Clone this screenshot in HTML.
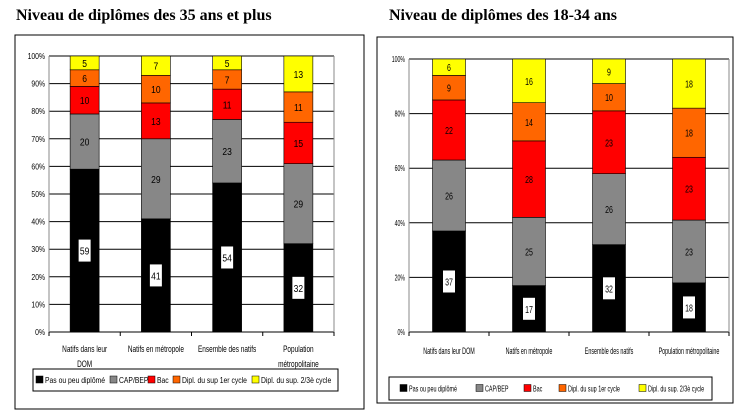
<!DOCTYPE html>
<html><head><meta charset="utf-8"><style>
body{margin:0;background:#fff;width:743px;height:413px;overflow:hidden;font-family:"Liberation Sans",sans-serif}
svg{position:absolute;left:0;top:0}
</style></head><body>
<svg id="c" width="743" height="413">
<text x="16" y="20" font-family="Liberation Serif" font-weight="bold" font-size="16">Niveau de diplômes des 35 ans et plus</text>
<text x="389" y="20" font-family="Liberation Serif" font-weight="bold" font-size="16">Niveau de diplômes des 18-34 ans</text>
</svg>
<script>
const categoriesL = ["Natifs dans leur|DOM","Natifs en métropole","Ensemble des natifs","Population|métropolitaine"];
const categoriesR = ["Natifs dans leur DOM","Natifs en métropole","Ensemble des natifs","Population métropolitaine"];
const seriesNames = ["Pas ou peu diplômé","CAP/BEP","Bac","Dipl. du sup 1er cycle","Dipl. du sup. 2/3è cycle"];
const colors = ["#000000","#878787","#ff0000","#ff6600","#ffff00"];
const left_pas = [59,41,54,32];
const left_cap = [20,29,23,29];
const left_bac = [10,13,11,15];
const left_sup1 = [6,10,7,11];
const left_sup2 = [5,7,5,13];
const right_pas = [37,17,32,18];
const right_cap = [26,25,26,23];
const right_bac = [22,28,23,23];
const right_sup1 = [9,14,10,18];
const right_sup2 = [6,16,9,18];
const ticksL = ["0%","10%","20%","30%","40%","50%","60%","70%","80%","90%","100%"];
const ticksR = ["0%","20%","40%","60%","80%","100%"];

const svg=document.getElementById('c');const NS='http://www.w3.org/2000/svg';
function mk(t,a,p){const e=document.createElementNS(NS,t);for(const k in a)e.setAttribute(k,a[k]);(p||svg).appendChild(e);return e;}
function txt(p,x,y,s,size,anchor,f){
  const t=mk('text',{transform:`translate(${x},${y}) scale(${f},1)`,x:0,y:0,'font-size':size,'text-anchor':anchor,fill:'#000'},p);
  t.textContent=s;return t;
}

function chart(cfg){
  const g=mk('g',{});
  
  
  const fr=mk('rect',{x:cfg.fx,y:cfg.fy,width:cfg.fw,height:cfg.fh,fill:'#fff',stroke:'#000','stroke-width':1},g);
  
  
  const y=v=>cfg.py1-(v/100)*(cfg.py1-cfg.py0);
  const n=cfg.ticks.length-1;
  cfg.ticks.forEach((t,i)=>{
    const v=i*100/n;
    const gl=mk('line',{x1:cfg.px0,x2:cfg.px1,y1:y(v),y2:y(v),stroke:'#000','stroke-width':1},g);
    
    
    const tl=txt(g,cfg.px0-4,y(v)+3,t,8,'end',cfg.tf);
    
    
  });
  mk('line',{x1:cfg.px0,x2:cfg.px0,y1:cfg.py0,y2:cfg.py1,stroke:'#888'},g);
  mk('line',{x1:cfg.px1,x2:cfg.px1,y1:cfg.py0,y2:cfg.py1,stroke:'#888'},g);
  const cw=(cfg.px1-cfg.px0)/cfg.cats.length;
  for(let i=0;i<=cfg.cats.length;i++)mk('line',{x1:cfg.px0+i*cw,x2:cfg.px0+i*cw,y1:cfg.py1,y2:cfg.py1+4,stroke:'#000'},g);
  cfg.cats.forEach((c,i)=>{
    const cx=cfg.px0+cw*(i+0.5);let acc=0;
    cfg.series.forEach((s,si)=>{
      const v=s[i];
      const r=mk('rect',{x:cx-cfg.bw/2,y:y(acc+v),width:cfg.bw,height:y(acc)-y(acc+v),fill:colors[si],stroke:'#000','stroke-width':0.6},g);
      
      
      const my=(y(acc)+y(acc+v))/2;
      if(si===0){mk('rect',{x:cx-6,y:my-11,width:12,height:22,fill:'#fff'},g);}
      const tx=txt(g,cx,my+4,String(v),10,'middle',cfg.vf);
      
      
      acc+=v;
    });
    c.split('|').forEach((ln,li)=>{
      const t=txt(g,cx,cfg.ly+li*15,ln,9,'middle',cfg.cf);
      
      
    });
  });
  const lg=mk('rect',{x:cfg.lx,y:cfg.lyb,width:cfg.lw,height:cfg.lh,fill:'#fff',stroke:'#000'},g);
  
  
  seriesNames.forEach((s,i)=>{
    const x=cfg.lx+cfg.lpos[i];const cy=cfg.lyb+cfg.lh/2;
    mk('rect',{x:x,y:cy-4,width:7,height:7,fill:colors[i],stroke:'#000','stroke-width':0.5},g);
    const t=txt(g,x+9,cy+3,s,8.5,'start',cfg.lf);
    
    
  });
}
chart({name:'left-chart',fx:15,fy:35,fw:349,fh:374,px0:49,px1:334,py0:56,py1:332,bw:29,ticks:ticksL,cats:categoriesL,
 series:[left_pas,left_cap,left_bac,left_sup1,left_sup2],ly:352,lx:33,lyb:369,lw:305,lh:22,lpos:[3,77,115,140,219],
 tf:0.85,vf:0.85,cf:0.72,lf:0.8});
chart({name:'right-chart',fx:377,fy:37,fw:356,fh:366,px0:409,px1:729,py0:59,py1:332,bw:33,ticks:ticksR,cats:categoriesR,
 series:[right_pas,right_cap,right_bac,right_sup1,right_sup2],ly:354,lx:389,lyb:377,lw:323,lh:23,lpos:[11,87,135,170,250],
 tf:0.65,vf:0.7,cf:0.6,lf:0.64});
</script>
</body></html>
